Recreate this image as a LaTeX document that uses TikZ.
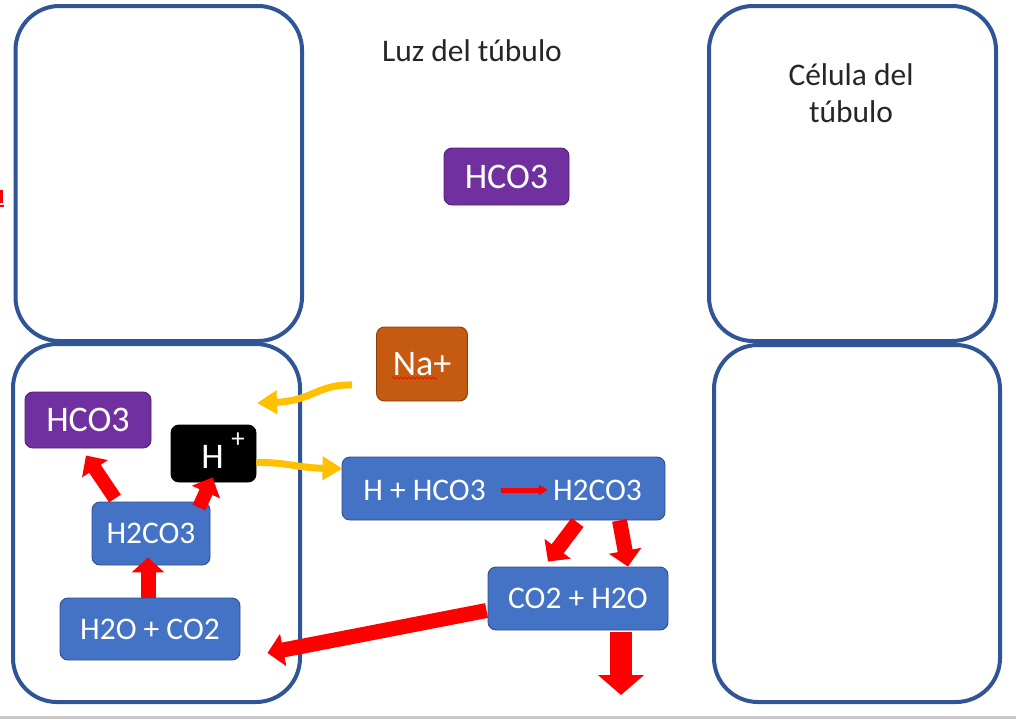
\documentclass[tikz,border=0pt]{standalone}
\usepackage{fontspec}
\setmainfont{Carlito}
\usetikzlibrary{arrows.meta,calc,decorations.pathmorphing}
\definecolor{cellblue}{HTML}{2F5597}
\definecolor{boxblue}{HTML}{4472C4}
\definecolor{purp}{HTML}{7030A0}
\definecolor{orng}{HTML}{C55A11}
\definecolor{yell}{HTML}{FFC000}
\definecolor{arrred}{HTML}{FF0000}
\tikzset{
  cell/.style={draw=cellblue, line width=3pt, rounded corners=33pt},
  box/.style={rounded corners=6pt, draw=#1!70!black, line width=0.7pt, fill=#1,
    text=white, inner sep=0pt, font=\fontsize{23.6}{28}\selectfont},
  bigtext/.style={font=\fontsize{27}{32}\selectfont},
  wtext/.style={text=white, inner sep=0pt, font=\fontsize{23.6}{28}\selectfont},
  lbl/.style={text=black!85, inner sep=0pt, font=\fontsize{23.6}{28}\selectfont},
  redarr/.style args={#1/#2/#3}{draw=arrred, line width=#1, -{Triangle[length=#3, width=#2]}},
  yarr/.style={draw=yell, line width=5.25pt, -{Triangle[length=15pt, width=17pt]}},
}
\begin{document}
\begin{tikzpicture}[x=0.75pt,y=-0.75pt]
\useasboundingbox (0,0) rectangle (1016,719);
\fill[white] (0,0) rectangle (1016,719);
\fill[black!22] (0,716) rectangle (1016,719);
% cut-off red mark at left edge
\fill[arrred] (0,190) rectangle (2.5,203);
\draw[arrred, line width=0.8pt] (0,206) -- (4,206);

% cells
\draw[cell] (15.5,6) rectangle (302,341);
\draw[cell] (13,344) rectangle (300,702);
\draw[cell] (709,6) rectangle (996,341);
\draw[cell] (714,345) rectangle (1000,702);

% labels
\node[lbl, anchor=base] (luz) at (472,61) {Luz del túbulo};
\node[lbl, anchor=base] (cel1) at (851,85) {Célula del};
\node[lbl, anchor=base] (cel2) at (851,122) {túbulo};

% boxes
\node[box=purp, bigtext, minimum width=93.75pt, minimum height=42.75pt] (hco3t) at (506.5,176.5) {HCO3};
\node[box=orng, bigtext, minimum width=68.25pt, minimum height=55.5pt] (na) at (422,364) {Na+};
\draw[arrred, line width=0.5pt, decorate, decoration={snake, amplitude=0.8pt, segment length=3pt}] (392,378) -- (437,378);
\node[box=purp, bigtext, minimum width=94.5pt, minimum height=42pt] (hco3l) at (88,420) {HCO3};
\node[box=black, minimum width=63.75pt, minimum height=42.75pt] (hplus) at (213.5,453.5) {};
\node[wtext, font=\fontsize{27}{32}\selectfont] (hh) at (212.5,457) {H};
\node[wtext, font=\fontsize{20}{24}\selectfont] (hp) at (238,440) {+};
\node[box=boxblue, minimum width=88.5pt, minimum height=47.25pt] (h2co3l) at (151,533.5) {H2CO3};
\node[box=boxblue, minimum width=135pt, minimum height=46.5pt] (h2oco2) at (150,629) {H2O + CO2};
\node[box=boxblue, minimum width=242.25pt, minimum height=47.25pt] (rx) at (503.5,488.5) {};
\node[wtext] (rxa) at (424.5,490) {H + HCO3};
\node[wtext] (rxb) at (597.5,490) {H2CO3};
\node[box=boxblue, minimum width=135pt, minimum height=47.25pt] (co2h2o) at (578,598.5) {CO2 + H2O};

% red arrows
\draw[redarr=10.5pt/22.5pt/12pt] ($(h2co3l.north)+(-36,-3)$) -- ($(hco3l.south)+(-2,7)$);
\draw[redarr=10.5pt/22.5pt/12pt] ($(h2co3l.north)+(48,6)$) -- ($(hplus.south)+(-1,-5)$);
\draw[redarr=11.25pt/24pt/11.25pt] ($(h2oco2.north)+(-2,0)$) -- ($(h2co3l.south)+(-3,-8)$);
\draw[redarr=3.75pt/7.5pt/6.75pt, shorten <=15pt*0.75] (rxa.east) -- ($(rxb.west)+(-5,0)$);
\draw[redarr=11.25pt/24pt/12pt] ($(rx.south)+(74,2)$) -- ($(co2h2o.north)+(-30,-5)$);
\draw[redarr=11.25pt/24pt/12pt] ($(rx.south)+(116,0)$) -- ($(co2h2o.north)+(50,0)$);
\coordinate (down) at (621,695);
\draw[redarr=16.5pt/33.75pt/15pt] ($(co2h2o.south)+(43,2)$) -- (down);
\draw[redarr=11.25pt/24pt/12pt] ($(co2h2o.west)+(-1,12)$) -- ($(h2oco2.east)+(27,24)$);

% yellow arrows
\coordinate (ya1) at (352,385);
\coordinate (ya2) at (257,403);
\draw[yarr] (ya1) .. controls (318,384) and (312,401) .. (ya2);
\draw[yarr] ($(hplus.east)+(0,9)$) .. controls (285,462) and (300,468) .. ($(rx.north west)+(1,12)$);
\end{tikzpicture}
\end{document}
